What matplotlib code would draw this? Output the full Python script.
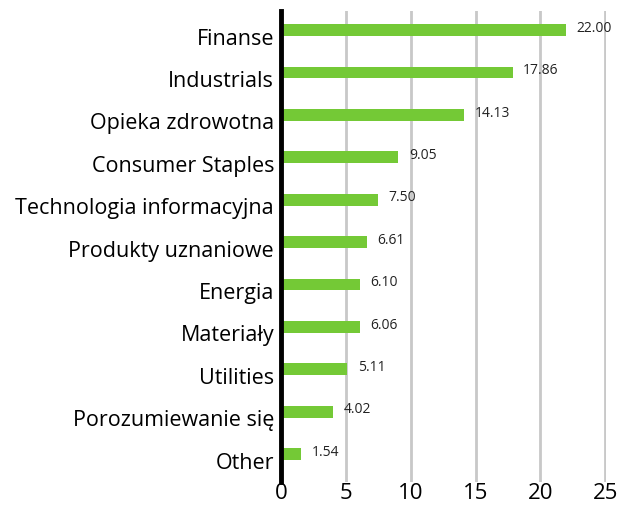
import matplotlib
matplotlib.use("Agg")
import matplotlib.pyplot as plt
import matplotlib.transforms as mtransforms

categories = ["Finanse", "Industrials", "Opieka zdrowotna", "Consumer Staples",
              "Technologia informacyjna", "Produkty uznaniowe", "Energia",
              "Materiały", "Utilities", "Porozumiewanie się", "Other"]
values = [22.00, 17.86, 14.13, 9.05, 7.50, 6.61, 6.10, 6.06, 5.11, 4.02, 1.54]
xticks = [0, 5, 10, 15, 20, 25]

plt.rcParams['font.family'] = ['Open Sans', 'DejaVu Sans']

fig = plt.figure(figsize=(6.19, 5.10), dpi=100)
ax = fig.add_axes([281/619, 1-483/510, (606-281)/619, (483-12)/510])

n = len(categories)
ypos = list(range(n))[::-1]
ax.barh(ypos, values, height=0.28, color="#74c936", zorder=3)
for y, v in zip(ypos, values):
    ax.annotate(f"{v:.2f}", (v, y), xytext=(7.5, 2), textcoords="offset points",
                va="center", ha="left", fontsize=10, color="#222222")

ax.set_xlim(0, 25.05)
ax.set_ylim(-0.66, n - 1 + 0.45)
ax.set_yticks(ypos)
ax.set_yticklabels(categories, fontsize=15.5)
ax.set_xticks(xticks)
ax.set_xticklabels([str(t) for t in xticks], fontsize=16)
ax.tick_params(length=0, pad=5)
ax.tick_params(axis='x', pad=0)
offset = mtransforms.ScaledTranslation(0, -4/72, fig.dpi_scale_trans)
for lab in ax.get_yticklabels():
    lab.set_transform(lab.get_transform() + offset)
for s in ["top", "right", "bottom"]:
    ax.spines[s].set_visible(False)
ax.spines["left"].set_linewidth(3.5)
ax.spines["left"].set_color("black")
ax.spines["left"].set_zorder(5)
ax.grid(axis="x", color="#c8c8c8", linewidth=2, zorder=0)
ax.set_axisbelow(True)

fig.savefig("out.png", dpi=100)
